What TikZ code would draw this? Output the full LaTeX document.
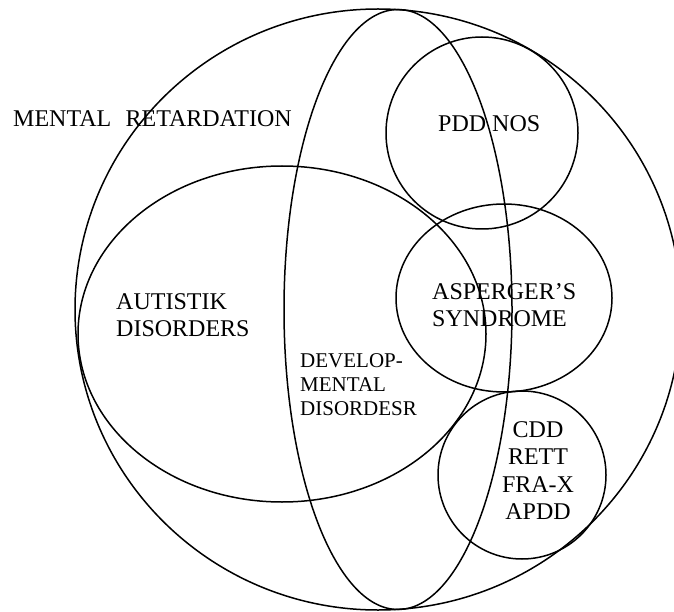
\documentclass[tikz,border=0pt]{standalone}
\usepackage{fontspec}
\setmainfont{Liberation Serif}

\begin{document}
\begin{tikzpicture}[
          x=1pt, y=-1pt,
          set/.style={line width=1.5pt},
          lbl/.style={inner sep=0pt, font=\fontsize{24}{27.6}\selectfont}
        ]
        \clip (0,0) rectangle (674,612);
        % the sets: centre x / centre y / x radius / y radius
        \foreach\cx/\cy/\rx/\ry in {378/309.5/303/300.5, 398/309.5/114/300,
                                  282/334/204/168, 482/133/96/96,
                                  504/298/108/94, 522/475/84/84}{
          \draw[set] (\cx,\cy) ellipse [x radius=\rx pt, y radius=\ry pt];
        }
        \node[lbl, anchor=base west] (mr) at (13,127) {MENTAL\hspace{0.6em}RETARDATION};
        \node[lbl, anchor=north west, align=left] (aut) at (116,293) {AUTISTIK\\DISORDERS};
        \node[lbl, anchor=north west, align=left, font=\fontsize{21}{24}\selectfont] (dev) at (300,353) {DEVELOP-\\MENTAL\\DISORDESR};
        \node[lbl, anchor=base west] (pdd) at (438,132) {PDD NOS};
        \node[lbl, anchor=north west, align=left, font=\fontsize{24}{27}\selectfont] (asp) at (432,283) {ASPERGER’S\\SYNDROME};
        \node[lbl, anchor=north, align=center] (cdd) at (538,421) {CDD\\RETT\\FRA-X\\APDD};
      \end{tikzpicture}
\end{document}
